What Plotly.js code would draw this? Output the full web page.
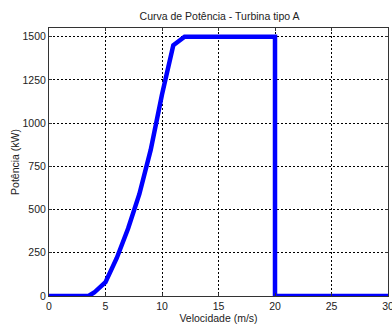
<!DOCTYPE html>
<html><head><meta charset="utf-8">
<script src="https://cdn.plot.ly/plotly-3.0.1.min.js"></script>
<style>html,body{margin:0;padding:0;background:#fff}#c{width:392px;height:324px}</style>
</head><body><div id="c"></div>
<script>
var velocidade = [0, 3.5, 4, 5, 6, 7, 8, 9, 10, 11, 12, 20, 20, 30];
var potencia   = [0, 0, 20, 80, 220, 390, 590, 845, 1165, 1450, 1500, 1500, 0, 0];
var xTicks = [0, 5, 10, 15, 20, 25, 30];
var yTicks = [0, 250, 500, 750, 1000, 1250, 1500];

var trace = {x: velocidade, y: potencia, type: 'scatter', mode: 'lines', cliponaxis: false,
  line: {color: '#0000FF', width: 4.5}, hoverinfo: 'skip'};
var axFont = {family: 'Liberation Sans, Arial, sans-serif', size: 10.5, color: '#222'};
var layout = {
  width: 392, height: 324,
  margin: {l: 49, r: 4, t: 28, b: 28},
  paper_bgcolor: '#fff', plot_bgcolor: '#fff',
  showlegend: false,
  title: {text: 'Curva de Potência - Turbina tipo A', x: 0.56, xanchor: 'center', y: 0.95, yanchor: 'middle',
    font: {family: 'Liberation Sans, Arial, sans-serif', size: 10.5, color: '#222'}},
  xaxis: {range: [0, 30], tickvals: xTicks, ticktext: xTicks.map(String),
    showgrid: true, gridcolor: '#000', griddash: '2px,2px', gridwidth: 1,
    showline: true, linecolor: '#333', linewidth: 1, mirror: 'ticks',
    ticks: 'inside', ticklen: 3, tickcolor: '#333', zeroline: false,
    ticklabeloverflow: 'allow',
    tickfont: axFont,
    title: {text: 'Velocidade (m/s)', standoff: 2, font: axFont}},
  yaxis: {range: [0, 1550], tickvals: yTicks, ticktext: yTicks.map(String),
    showgrid: true, gridcolor: '#000', griddash: '2px,2px', gridwidth: 1,
    showline: true, linecolor: '#333', linewidth: 1, mirror: 'ticks',
    ticks: 'inside', ticklen: 3, tickcolor: '#333', zeroline: false,
    tickfont: axFont,
    title: {text: 'Potência (kW)', standoff: 0, font: axFont}}
};
Plotly.newPlot('c', [trace], layout, {staticPlot: true, displayModeBar: false});
</script></body></html>
